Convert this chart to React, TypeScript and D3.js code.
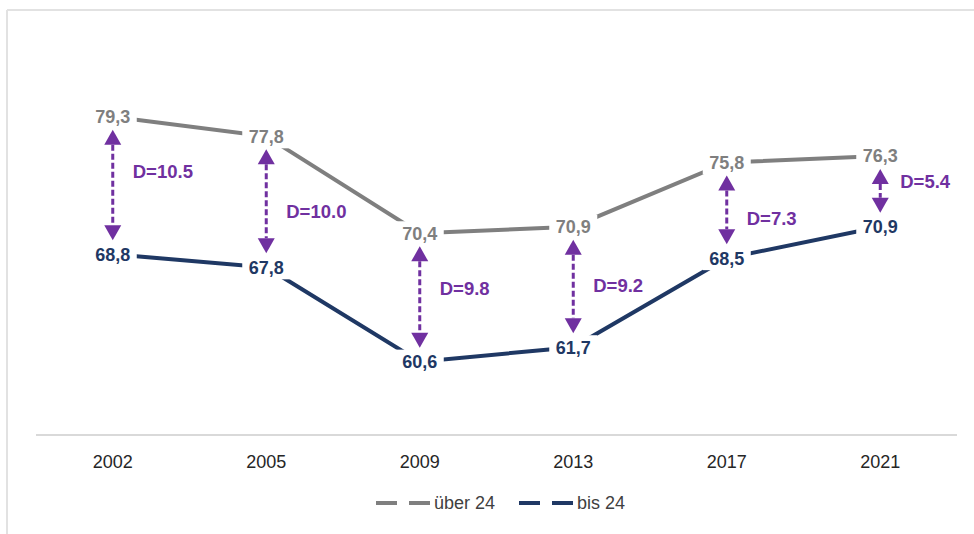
import React from "react";
import * as d3 from "d3";

// Survey years and the two age groups' values
const years = ["2002", "2005", "2009", "2013", "2017", "2021"];
const ueber24 = [79.3, 77.8, 70.4, 70.9, 75.8, 76.3];
const bis24 = [68.8, 67.8, 60.6, 61.7, 68.5, 70.9];
const diffLabels = ["D=10.5", "D=10.0", "D=9.8", "D=9.2", "D=7.3", "D=5.4"];
const seriesNames = ["über 24", "bis 24"];

// vertical nudge of each difference label relative to the gap midpoint
const diffLabelDy = [-14, 10, -9, -2, 8, -10];

const W = 974;
const H = 534;
const GRAY = "#7f7f7f";
const NAVY = "#1f3864";
const PURPLE = "#7030a0";
const FONT = "'Liberation Sans', Arial, sans-serif";

const fmt = (v: number) => v.toFixed(1).replace(".", ",");

export default function App() {
  const x = d3.scaleBand<string>().domain(years).range([36, 957]);
  const y = d3.scaleLinear().domain([55, 85]).range([435, 42]);
  const cx = (d: string) => (x(d) ?? 0) + x.bandwidth() / 2;

  const line = d3
    .line<number>()
    .x((_, i) => cx(years[i]))
    .y((v) => y(v));

  const label = (v: number, i: number, color: string, key: string) => {
    const px = cx(years[i]);
    const py = y(v);
    return (
      <g key={key}>
        <rect x={px - 24} y={py - 12} width={48} height={24} fill="#fff" />
        <text
          x={px}
          y={py}
          dy="0.36em"
          textAnchor="middle"
          fontSize={18}
          fontWeight="bold"
          fill={color}
        >
          {fmt(v)}
        </text>
      </g>
    );
  };

  const head = 15;
  const halfW = 8.5;

  return (
    <svg
      width={W}
      height={H}
      style={{ position: "absolute", left: 0, top: 0, fontFamily: FONT }}
    >
      <rect width={W} height={H} fill="#fff" />
      {/* outer frame */}
      <line x1={7} y1={10} x2={W} y2={10} stroke="#e2e2e2" strokeWidth={2} />
      <line x1={7} y1={10} x2={7} y2={H} stroke="#e2e2e2" strokeWidth={2} />

      {/* category axis */}
      <line x1={36} y1={435} x2={957} y2={435} stroke="#d9d9d9" strokeWidth={2} />
      {years.map((yr) => (
        <text
          key={yr}
          x={cx(yr)}
          y={462}
          dy="0.36em"
          textAnchor="middle"
          fontSize={18}
          fill="#262626"
        >
          {yr}
        </text>
      ))}

      {/* series lines */}
      <path d={line(ueber24) ?? ""} fill="none" stroke={GRAY} strokeWidth={4} />
      <path d={line(bis24) ?? ""} fill="none" stroke={NAVY} strokeWidth={4} />

      {/* difference arrows */}
      {years.map((yr, i) => {
        const px = cx(yr);
        const top = y(ueber24[i]) + 13;
        const bot = y(bis24[i]) - 14;
        const mid = (y(ueber24[i]) + y(bis24[i])) / 2 + diffLabelDy[i];
        return (
          <g key={"d" + yr}>
            <line
              x1={px}
              y1={top + head}
              x2={px}
              y2={bot - head}
              stroke={PURPLE}
              strokeWidth={3}
              strokeDasharray="6 3"
            />
            <path
              d={`M${px},${top} L${px + halfW},${top + head} L${px - halfW},${top + head} Z`}
              fill={PURPLE}
            />
            <path
              d={`M${px},${bot} L${px + halfW},${bot - head} L${px - halfW},${bot - head} Z`}
              fill={PURPLE}
            />
            <text
              x={px + 20}
              y={mid}
              dy="0.36em"
              fontSize={18.5}
              fontWeight="bold"
              fill={PURPLE}
            >
              {diffLabels[i]}
            </text>
          </g>
        );
      })}

      {/* value labels */}
      {ueber24.map((v, i) => label(v, i, GRAY, "u" + i))}
      {bis24.map((v, i) => label(v, i, NAVY, "b" + i))}

      {/* legend */}
      {[GRAY, NAVY].map((c, i) => {
        const lx = i === 0 ? 376 : 519;
        return (
          <g key={"lg" + i}>
            <line
              x1={lx}
              y1={503}
              x2={lx + 54}
              y2={503}
              stroke={c}
              strokeWidth={4}
              strokeDasharray="21 12"
            />
            <text x={lx + 58} y={503} dy="0.36em" fontSize={18} fill="#404040">
              {seriesNames[i]}
            </text>
          </g>
        );
      })}
    </svg>
  );
}
